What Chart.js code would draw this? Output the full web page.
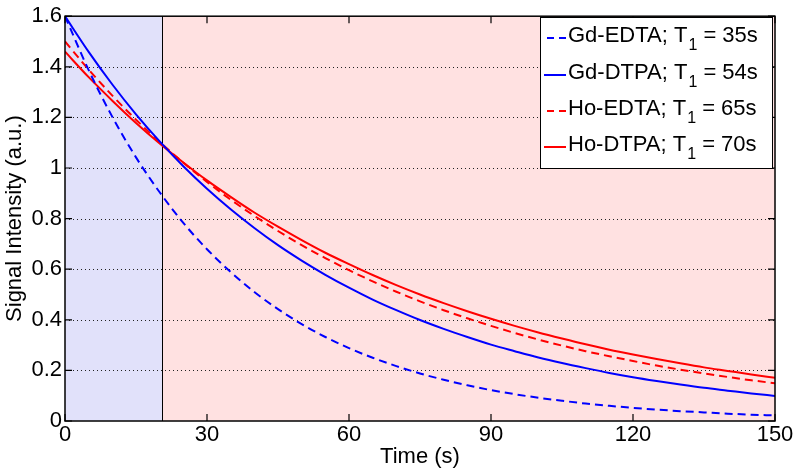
<!DOCTYPE html>
<html lang="en">
<head>
<meta charset="UTF-8">
<title>Signal Intensity vs Time</title>
<script src="https://cdn.jsdelivr.net/npm/chart.js"></script>
<style>
  body { margin: 0; background: #fff; }
</style>
</head>
<body>
<canvas id="chart" width="800" height="475"></canvas>
<script>
// values, every 5 s
const times = [0, 5, 10, 15, 20, 25, 30, 35, 40, 45, 50, 55, 60, 65, 70, 75,
               80, 85, 90, 95, 100, 105, 110, 115, 120, 125, 130, 135, 140, 145, 150];
const gdEdta = [1.600, 1.387, 1.202, 1.042, 0.904, 0.783, 0.679, 0.589, 0.510, 0.442, 0.383, 0.332, 0.288, 0.250, 0.217, 0.188,
                0.163, 0.141, 0.122, 0.106, 0.092, 0.080, 0.069, 0.060, 0.052, 0.045, 0.039, 0.034, 0.029, 0.025, 0.022];
const gdDtpa = [1.600, 1.459, 1.330, 1.212, 1.105, 1.007, 0.918, 0.837, 0.763, 0.695, 0.634, 0.578, 0.527, 0.480, 0.438, 0.399,
                0.364, 0.332, 0.302, 0.276, 0.251, 0.229, 0.209, 0.190, 0.173, 0.158, 0.144, 0.131, 0.120, 0.109, 0.099];
const hoEdta = [1.500, 1.389, 1.286, 1.191, 1.103, 1.021, 0.945, 0.875, 0.811, 0.751, 0.695, 0.644, 0.596, 0.552, 0.511, 0.473,
                0.438, 0.406, 0.376, 0.348, 0.322, 0.298, 0.276, 0.256, 0.237, 0.219, 0.203, 0.188, 0.174, 0.161, 0.149];
const hoDtpa = [1.460, 1.359, 1.266, 1.178, 1.097, 1.022, 0.951, 0.886, 0.824, 0.768, 0.715, 0.665, 0.620, 0.577, 0.537, 0.500,
                0.466, 0.434, 0.404, 0.376, 0.350, 0.326, 0.303, 0.282, 0.263, 0.245, 0.228, 0.212, 0.198, 0.184, 0.171];

const seriesNames = ['Gd-EDTA; T', 'Gd-DTPA; T', 'Ho-EDTA; T', 'Ho-DTPA; T'];
const seriesT1 = ['35s', '54s', '65s', '70s'];

const xTicks = [0, 30, 60, 90, 120, 150];
const yTicks = [0, 0.2, 0.4, 0.6, 0.8, 1, 1.2, 1.4, 1.6];
const injectionEnd = 20.5;

const FONT = 'Liberation Sans, Arial, Helvetica, sans-serif';
const BLUE = '#0000ff';
const RED = '#ff0000';

function points(ys) {
  return times.map((t, i) => ({ x: t, y: ys[i] }));
}

function line(label, ys, color, dashed) {
  return {
    label: label,
    data: points(ys),
    borderColor: color,
    borderWidth: 2,
    borderDash: dashed ? [8, 5] : [],
    pointRadius: 0,
    cubicInterpolationMode: 'monotone',
    fill: false
  };
}

const matlabLook = {
  id: 'matlabLook',
  beforeDatasetsDraw(chart) {
    const { ctx, chartArea: a, scales: { x, y } } = chart;
    const xi = x.getPixelForValue(injectionEnd);
    ctx.save();
    ctx.fillStyle = '#e1e1fa';
    ctx.fillRect(a.left, a.top, xi - a.left, a.bottom - a.top);
    ctx.fillStyle = '#ffe1e1';
    ctx.fillRect(xi, a.top, a.right - xi, a.bottom - a.top);

    // dotted grid
    ctx.strokeStyle = '#222';
    ctx.lineWidth = 1;
    ctx.setLineDash([1, 3]);
    yTicks.slice(1, -1).forEach(v => {
      const py = Math.round(y.getPixelForValue(v)) + 0.5;
      ctx.beginPath();
      ctx.moveTo(a.left, py);
      ctx.lineTo(a.right, py);
      ctx.stroke();
    });
    ctx.setLineDash([]);

    ctx.strokeStyle = '#000';
    ctx.beginPath();
    ctx.moveTo(Math.round(xi) + 0.5, a.top);
    ctx.lineTo(Math.round(xi) + 0.5, a.bottom);
    ctx.stroke();
    ctx.restore();
  },
  afterDatasetsDraw(chart) {
    const { ctx, chartArea: a, scales: { x, y } } = chart;
    ctx.save();
    ctx.strokeStyle = '#000';
    ctx.lineWidth = 1.5;
    ctx.strokeRect(a.left, a.top, a.right - a.left, a.bottom - a.top);

    // inward tick marks
    const tl = 7;
    ctx.lineWidth = 1.2;
    ctx.beginPath();
    xTicks.forEach(v => {
      const px = x.getPixelForValue(v);
      ctx.moveTo(px, a.bottom); ctx.lineTo(px, a.bottom - tl);
      ctx.moveTo(px, a.top); ctx.lineTo(px, a.top + tl);
    });
    yTicks.forEach(v => {
      const py = y.getPixelForValue(v);
      ctx.moveTo(a.left, py); ctx.lineTo(a.left + tl, py);
      ctx.moveTo(a.right, py); ctx.lineTo(a.right - tl, py);
    });
    ctx.stroke();

    // legend
    const lx = 540, ly = 17, lw = 232, lh = 151;
    ctx.fillStyle = '#fff';
    ctx.fillRect(lx, ly, lw, lh);
    ctx.lineWidth = 1;
    ctx.strokeRect(lx + 0.5, ly + 0.5, lw, lh);
    const rows = [36, 73, 109, 145];
    chart.data.datasets.forEach((ds, i) => {
      const ry = rows[i];
      ctx.strokeStyle = ds.borderColor;
      ctx.lineWidth = 2;
      ctx.setLineDash(ds.borderDash.length ? [7, 5] : []);
      ctx.beginPath();
      ctx.moveTo(ds.borderDash.length ? 547 : 544, ry + 2);
      ctx.lineTo(566, ry + 2);
      ctx.stroke();
      ctx.setLineDash([]);

      ctx.fillStyle = '#000';
      ctx.textBaseline = 'middle';
      ctx.textAlign = 'left';
      ctx.font = '22px ' + FONT;
      let tx = 568;
      ctx.fillText(seriesNames[i], tx, ry);
      tx += ctx.measureText(seriesNames[i]).width + 1;
      ctx.font = '16px ' + FONT;
      ctx.fillText('1', tx, ry + 10);
      tx += ctx.measureText('1').width;
      ctx.font = '22px ' + FONT;
      ctx.fillText(' = ' + seriesT1[i], tx, ry);
    });
    ctx.restore();
  }
};

new Chart(document.getElementById('chart'), {
  type: 'line',
  data: {
    datasets: [
      line('Gd-EDTA', gdEdta, BLUE, true),
      line('Gd-DTPA', gdDtpa, BLUE, false),
      line('Ho-EDTA', hoEdta, RED, true),
      line('Ho-DTPA', hoDtpa, RED, false)
    ]
  },
  options: {
    responsive: false,
    devicePixelRatio: 1,
    animation: false,
    layout: { padding: { top: 14, right: 25, left: 0, bottom: 0 } },
    plugins: { legend: { display: false }, tooltip: { enabled: false } },
    scales: {
      x: {
        type: 'linear',
        min: 0,
        max: 150,
        afterBuildTicks: s => { s.ticks = xTicks.map(v => ({ value: v })); },
        afterFit: s => { s.height = 54; },
        grid: { display: false, drawTicks: false },
        border: { display: false },
        ticks: { color: '#000', padding: 1, maxRotation: 0, font: { size: 22, family: FONT } },
        title: { display: true, text: 'Time (s)', color: '#000', padding: { top: 0, bottom: 5 }, font: { size: 22, family: FONT } }
      },
      y: {
        min: 0,
        max: 1.6,
        afterBuildTicks: s => { s.ticks = yTicks.map(v => ({ value: v })); },
        afterFit: s => { s.width = 65; },
        grid: { display: false, drawTicks: false },
        border: { display: false },
        ticks: {
          color: '#000',
          padding: 3,
          font: { size: 22, family: FONT },
          callback: v => String(Number(v.toFixed(1)))
        },
        title: { display: true, text: 'Signal Intensity (a.u.)', color: '#000', padding: { top: 2, bottom: 0 }, font: { size: 22, family: FONT } }
      }
    }
  },
  plugins: [matlabLook]
});
</script>
</body>
</html>
